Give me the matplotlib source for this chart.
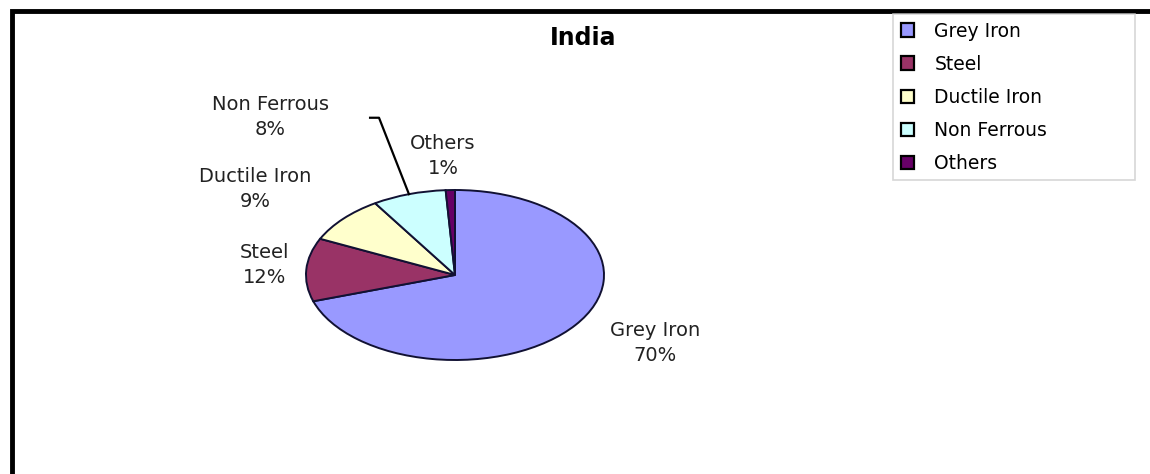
import numpy as np
import matplotlib.pyplot as plt
from matplotlib.patches import Rectangle

categories = ["Grey Iron", "Steel", "Ductile Iron", "Non Ferrous", "Others"]
shares = [70, 12, 9, 8, 1]
colors = ["#9999FF", "#993366", "#FFFFCC", "#CCFFFF", "#660066"]

# label centres in pie data units (radius 1, ellipse stretched by the axes box)
label_pos = [(1.34, -0.80), (-1.28, 0.12), (-1.34, 1.01), (-1.24, 1.86), (-0.08, 1.40)]

plt.rcParams['font.family'] = ['DejaVu Sans']

fig = plt.figure(figsize=(11.5, 4.74), dpi=100)
W, H = 1150, 474

# outer chart frame (runs off the right and bottom of the picture)
fig.patches.append(Rectangle((11.5 / W, -0.05), 1.1, (474 - 11.5) / H + 0.05,
                             transform=fig.transFigure, fill=False,
                             edgecolor="black", linewidth=3.5))

cx, cy, rx, ry = 455, 275, 149, 85
ax = fig.add_axes([(cx - rx) / W, (H - cy - ry) / H, 2 * rx / W, 2 * ry / H])
wedges, _ = ax.pie(shares, colors=colors, startangle=90, counterclock=False,
                   wedgeprops=dict(edgecolor="#111133", linewidth=1.4))
ax.set_xlim(-1.0, 1.0)
ax.set_ylim(-1.0, 1.0)
ax.set_aspect("auto")
ax.axis("off")

total = sum(shares)
for name, val, (lx, ly) in zip(categories, shares, label_pos):
    ax.text(lx, ly, f"{name}\n{round(100 * val / total)}%", ha="center", va="center",
            fontsize=14, color="#222222", linespacing=1.4, clip_on=False)

# leader line for Non Ferrous
w = wedges[3]
mid = np.deg2rad((w.theta1 + w.theta2) / 2)
ax.plot([-0.57, -0.51, np.cos(mid)], [1.85, 1.85, np.sin(mid)], color="black",
        linewidth=1.6, clip_on=False)

fig.text(583 / W, 1 - 38 / H, "India", ha="center", va="center",
         fontsize=17, fontweight="bold")

leg = fig.legend(wedges, categories, loc="upper left",
                 bbox_to_anchor=(893 / W, 1 - 183 / H, 242 / W, 169 / H),
                 mode="expand", fontsize=13.5,
                 handlelength=0.7, handleheight=0.7, handletextpad=1.1,
                 labelspacing=0.75, borderpad=0.4, fancybox=False,
                 frameon=True, edgecolor="#cccccc", borderaxespad=0)
leg.get_frame().set_linewidth(1.2)
for h in leg.legend_handles:
    h.set_edgecolor("black")
    h.set_linewidth(1.6)

fig.savefig("out.png", dpi=100)
